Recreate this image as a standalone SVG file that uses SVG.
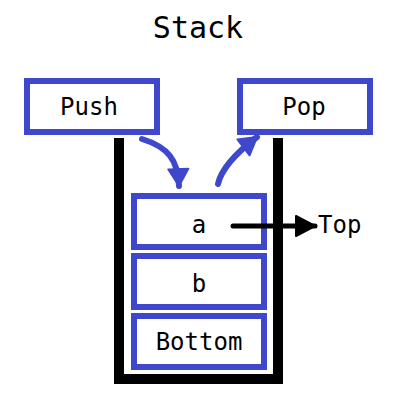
<svg xmlns="http://www.w3.org/2000/svg" width="400" height="400" viewBox="0 0 400 400">
  <style>
    .box { fill: #ffffff; stroke: #3f48cc; stroke-width: 6; }
    .lbl { font-family: "DejaVu Sans Mono", "Liberation Mono", monospace; font-size: 24px; fill: #000000; text-anchor: middle; }
    .blue { fill: none; stroke: #3f48cc; stroke-width: 6; stroke-linecap: round; }
    .black { fill: none; stroke: #000000; stroke-width: 5; stroke-linecap: round; }
  </style>
  <defs>
    <marker id="headBlue" markerUnits="userSpaceOnUse" viewBox="-2 -12 22 24" markerWidth="22" markerHeight="24" refX="17" refY="0" orient="auto">
      <path d="M0,-10 L17,0 L0,10 Z" fill="#3f48cc" stroke="#3f48cc" stroke-width="2" stroke-linejoin="round"/>
    </marker>
    <marker id="headBlack" markerUnits="userSpaceOnUse" viewBox="-2 -13 23 26" markerWidth="23" markerHeight="26" refX="19" refY="0" orient="auto">
      <path d="M0,-10 L19,0 L0,10 Z" fill="#000000" stroke="#000000" stroke-width="2" stroke-linejoin="round"/>
    </marker>
  </defs>
  <rect width="400" height="400" fill="#ffffff"/>
  <text id="title" x="198" y="38" class="lbl" style="font-size:30px">Stack</text>
  <g id="container">
    <path d="M119,138 V379 H278 V138" fill="none" stroke="#000000" stroke-width="10"/>
  </g>
  <g id="push">
    <rect class="box" x="27" y="81" width="130" height="51"/>
    <text class="lbl" x="89" y="115">Push</text>
  </g>
  <g id="pop">
    <rect class="box" x="240" y="81" width="130" height="51"/>
    <text class="lbl" x="304" y="115">Pop</text>
  </g>
  <g id="a">
    <rect class="box" x="134" y="196" width="130" height="51"/>
    <text class="lbl" x="199" y="233">a</text>
  </g>
  <g id="b">
    <rect class="box" x="134" y="256" width="130" height="51"/>
    <text class="lbl" x="199" y="292">b</text>
  </g>
  <g id="bottom">
    <rect class="box" x="134" y="316" width="130" height="51"/>
    <text class="lbl" x="199" y="350">Bottom</text>
  </g>
  <g id="top">
    <text class="lbl" x="318" y="233" style="text-anchor:start">Top</text>
  </g>
  <g id="connectors">
    <path class="blue" d="M142,139 C168,147 178,160 179,186" marker-end="url(#headBlue)"/>
    <path class="blue" d="M218,184 C222,166 240,150 257,137" marker-end="url(#headBlue)"/>
    <path class="black" d="M233,226 L315,226" marker-end="url(#headBlack)"/>
  </g>
</svg>
